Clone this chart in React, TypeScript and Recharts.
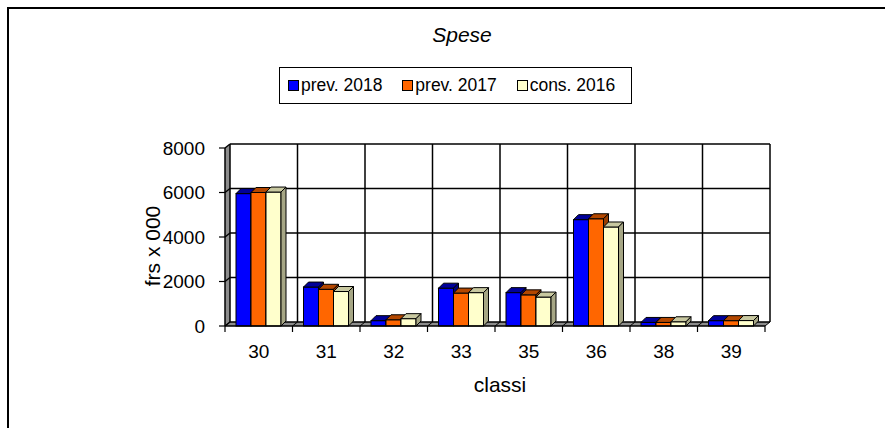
import React from 'react';
import { BarChart, Bar, XAxis, YAxis, CartesianGrid, Legend } from 'recharts';

const categories = ['30', '31', '32', '33', '35', '36', '38', '39'];
const prev2018 = [5950, 1750, 240, 1700, 1500, 4780, 160, 240];
const prev2017 = [6000, 1650, 280, 1480, 1400, 4820, 160, 240];
const cons2016 = [6020, 1550, 330, 1500, 1300, 4450, 190, 245];
const yTicks = [0, 2000, 4000, 6000, 8000];

const series = [
  { key: 'prev2018', name: 'prev. 2018', fill: '#0000FF', top: '#00009A', side: '#000080' },
  { key: 'prev2017', name: 'prev. 2017', fill: '#FF6600', top: '#B34700', side: '#993D00' },
  { key: 'cons2016', name: 'cons. 2016', fill: '#FFFFCC', top: '#C8C8A0', side: '#A6A685' },
];

const data = categories.map((c, i) => ({
  classe: c,
  prev2018: prev2018[i],
  prev2017: prev2017[i],
  cons2016: cons2016[i],
}));

const FONT = '"Liberation Sans", Arial, sans-serif';
// depth of the 3d walls and of the bars
const WX = 5;
const WY = -4;
const BX = 5;
const BY = -5;

function Bar3D(props: any) {
  const { x, y, width, height, fill, top, side } = props;
  if (width == null || height == null) return null;
  const w = width;
  const h = height;
  return (
    <g>
      <rect x={x} y={y} width={w} height={h} fill={fill} stroke="#000" strokeWidth={1} />
      <polygon
        points={`${x},${y} ${x + BX},${y + BY} ${x + w + BX},${y + BY} ${x + w},${y}`}
        fill={top}
        stroke="#000"
        strokeWidth={1}
      />
      <polygon
        points={`${x + w},${y} ${x + w + BX},${y + BY} ${x + w + BX},${y + h + BY} ${x + w},${y + h}`}
        fill={side}
        stroke="#000"
        strokeWidth={1}
      />
    </g>
  );
}

function hLine(p: any) {
  const { x1, y1, x2, index } = p;
  const x = p.x ?? x1;
  const w = p.width ?? x2 - x1;
  const y = p.y;
  const h = p.height;
  return (
    <g key={`h-${index}`}>
      {index === 0 && y != null && (
        <g>
          <rect x={x + WX} y={y + WY} width={w} height={h} fill="#fff" />
          <polygon
            points={`${x},${y} ${x + WX},${y + WY} ${x + WX},${y + h + WY} ${x},${y + h}`}
            fill="#8c8c8c"
          />
          <polygon
            points={`${x},${y + h} ${x + WX},${y + h + WY} ${x + w + WX},${y + h + WY} ${x + w},${y + h}`}
            fill="#8c8c8c"
          />
        </g>
      )}
      <line x1={x1} y1={y1} x2={x1 + WX} y2={y1 + WY} stroke="#000" strokeWidth={1.5} />
      <line x1={x1 + WX} y1={y1 + WY} x2={x2 + WX} y2={y1 + WY} stroke="#000" strokeWidth={1.5} />
    </g>
  );
}

function vLine(p: any) {
  const { index, y1, y2 } = p;
  if (index !== 0) return <g key={`v-${index}`} />;
  const x = p.x;
  const w = p.width;
  const band = w / categories.length;
  const bounds = [];
  for (let i = 0; i <= categories.length; i++) bounds.push(x + i * band);
  return (
    <g key="v-all">
      {bounds.map((bx, i) => (
        <g key={i}>
          <line x1={bx + WX} y1={y1 + WY} x2={bx + WX} y2={y2 + WY} stroke="#000" strokeWidth={1.5} />
          <line x1={bx} y1={y2} x2={bx + WX} y2={y2 + WY} stroke="#000" strokeWidth={1} />
          <line x1={bx} y1={y2} x2={bx} y2={y2 + 6} stroke="#000" strokeWidth={1.2} />
        </g>
      ))}
    </g>
  );
}

function LegendBox() {
  return (
    <div
      style={{
        boxSizing: 'border-box',
        width: 353,
        height: 37,
        border: '1px solid #000',
        display: 'flex',
        alignItems: 'center',
        paddingLeft: 8,
        fontFamily: FONT,
        fontSize: 17.5,
        color: '#000',
        background: '#fff',
      }}
    >
      {series.map((s) => (
        <div key={s.key} style={{ display: 'flex', alignItems: 'center', width: 115 }}>
          <span
            style={{
              display: 'inline-block',
              boxSizing: 'border-box',
              width: 11,
              height: 11,
              background: s.fill,
              border: '1.5px solid #000',
              marginRight: 2,
            }}
          />
          <span style={{ whiteSpace: 'nowrap' }}>{s.name}</span>
        </div>
      ))}
    </div>
  );
}

function YLabel(props: any) {
  const vb = props.viewBox || {};
  const cx = vb.x - 13;
  const cy = vb.y + vb.height / 2 + 9;
  return (
    <text
      x={cx}
      y={cy}
      transform={`rotate(-90 ${cx} ${cy})`}
      textAnchor="middle"
      dominantBaseline="central"
      fontFamily={FONT}
      fontSize={21}
      fill="#000"
    >
      frs x 000
    </text>
  );
}

export default function App() {
  return (
    <div
      style={{
        position: 'absolute',
        left: 0,
        top: 0,
        width: 885,
        height: 428,
        overflow: 'hidden',
        background: '#fff',
      }}
    >
      <div
        style={{
          position: 'absolute',
          left: 7,
          top: 7,
          width: 1000,
          height: 600,
          borderTop: '2px solid #000',
          borderLeft: '2px solid #000',
        }}
      />
      <div
        style={{
          position: 'absolute',
          left: 362,
          top: 23,
          width: 200,
          textAlign: 'center',
          fontFamily: FONT,
          fontStyle: 'italic',
          fontSize: 21,
          lineHeight: '24px',
        }}
      >
        Spese
      </div>
      <div style={{ position: 'absolute', left: 0, top: 0 }}>
        <BarChart
          width={885}
          height={428}
          data={data}
          margin={{ top: 148, right: 120, bottom: 72, left: 165 }}
          barSize={15}
          barGap={0}
        >
          <CartesianGrid horizontal={hLine} vertical={vLine} stroke="#000" />
          <XAxis
            dataKey="classe"
            height={30}
            axisLine={{ stroke: '#000', strokeWidth: 1.5 }}
            tickLine={false}
            tickSize={6}
            tickMargin={13}
            tick={{ fill: '#000', fontSize: 19, fontFamily: FONT }}
            label={{
              value: 'classi',
              position: 'bottom',
              offset: 21,
              dx: 5,
              fill: '#000',
              fontSize: 21,
              fontFamily: FONT,
            }}
          />
          <YAxis
            width={60}
            domain={[0, 8000]}
            ticks={yTicks}
            interval={0}
            axisLine={{ stroke: '#000', strokeWidth: 1.5 }}
            tickLine={{ stroke: '#000', strokeWidth: 1.2 }}
            tickSize={6}
            tickMargin={14}
            tick={{ fill: '#000', fontSize: 19, fontFamily: FONT }}
            label={(p: any) => <YLabel {...p} />}
          />
          <Legend
            layout="vertical"
            align="center"
            verticalAlign="middle"
            wrapperStyle={{ left: 279, top: 67, width: 353, height: 37 }}
            content={() => <LegendBox />}
          />
          {series.map((s) => (
            <Bar
              key={s.key}
              dataKey={s.key}
              name={s.name}
              fill={s.fill}
              isAnimationActive={false}
              shape={(p: any) => <Bar3D {...p} top={s.top} side={s.side} />}
            />
          ))}
        </BarChart>
      </div>
    </div>
  );
}
